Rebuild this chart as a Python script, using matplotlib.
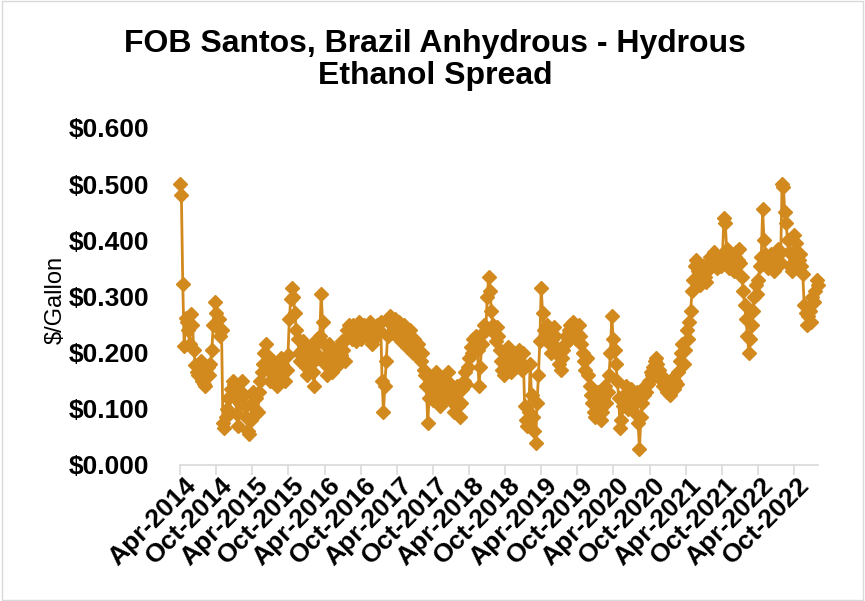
import matplotlib
matplotlib.use('Agg')
import matplotlib.pyplot as plt
import matplotlib.dates as mdates
import matplotlib.transforms as mtransforms
from matplotlib.ticker import FuncFormatter, MultipleLocator
from matplotlib.patches import Rectangle
import pandas as pd

plt.rcParams['font.family'] = ['Liberation Sans', 'DejaVu Sans']

# weekly spread, $/gallon, first week = 4 Apr 2014
spread_2014 = [0.500, 0.480, 0.322, 0.212,
               0.262, 0.255, 0.240, 0.215, 0.268,
               0.250, 0.205, 0.178, 0.165,
               0.160, 0.170, 0.185, 0.150,
               0.145, 0.140, 0.165, 0.175, 0.160,
               0.180, 0.205, 0.250, 0.290,
               0.270, 0.245, 0.260, 0.230, 0.240,
               0.075, 0.065, 0.085, 0.100,
               0.120, 0.095, 0.135, 0.150]
spread_2015 = [0.145, 0.120, 0.090, 0.070, 0.110,
               0.130, 0.150, 0.125, 0.105,
               0.085, 0.060, 0.055, 0.080,
               0.110, 0.130, 0.100, 0.120,
               0.095, 0.130, 0.150, 0.165, 0.180,
               0.200, 0.215, 0.195, 0.170,
               0.150, 0.165, 0.185, 0.170, 0.155,
               0.140, 0.160, 0.175, 0.190,
               0.180, 0.165, 0.150, 0.170,
               0.195, 0.260, 0.295, 0.315, 0.300,
               0.270, 0.240, 0.225, 0.200,
               0.185, 0.205, 0.220, 0.195]
spread_2016 = [0.175, 0.160, 0.190, 0.210, 0.180,
               0.165, 0.140, 0.200, 0.225, 0.190,
               0.230, 0.305, 0.255, 0.215,
               0.180, 0.160, 0.195, 0.215, 0.175,
               0.165, 0.190, 0.205, 0.175,
               0.185, 0.210, 0.195, 0.220,
               0.205, 0.185, 0.225, 0.240, 0.250,
               0.240, 0.225, 0.250, 0.235,
               0.220, 0.245, 0.255, 0.240, 0.225,
               0.235, 0.250, 0.240, 0.230,
               0.245, 0.255, 0.230, 0.215,
               0.225, 0.240, 0.250, 0.235]
spread_2017 = [0.240, 0.255, 0.150, 0.095,
               0.140, 0.185, 0.230, 0.255,
               0.265, 0.250, 0.235, 0.260, 0.245,
               0.230, 0.255, 0.240, 0.220,
               0.235, 0.250, 0.225, 0.210,
               0.230, 0.240, 0.215, 0.200, 0.225,
               0.210, 0.195, 0.215, 0.200,
               0.185, 0.200, 0.170, 0.160,
               0.140, 0.075, 0.120, 0.150, 0.130,
               0.115, 0.140, 0.165, 0.150,
               0.125, 0.105, 0.140, 0.155,
               0.135, 0.120, 0.150, 0.165, 0.145]
spread_2018 = [0.130, 0.110, 0.095, 0.125,
               0.140, 0.105, 0.085, 0.110,
               0.135, 0.150, 0.165, 0.145, 0.175,
               0.190, 0.210, 0.200, 0.225,
               0.215, 0.230, 0.205, 0.140,
               0.175, 0.215, 0.235, 0.250, 0.240,
               0.300, 0.335, 0.310, 0.275,
               0.250, 0.235, 0.220, 0.245, 0.230,
               0.205, 0.185, 0.170, 0.160,
               0.175, 0.195, 0.210, 0.185,
               0.165, 0.180, 0.200, 0.190, 0.175,
               0.190, 0.205, 0.185, 0.170]
spread_2019 = [0.200, 0.105, 0.080, 0.070,
               0.095, 0.180, 0.125, 0.085,
               0.060, 0.040, 0.110, 0.160, 0.220,
               0.315, 0.270, 0.240, 0.225,
               0.250, 0.235, 0.215, 0.200, 0.225,
               0.245, 0.230, 0.210, 0.195,
               0.180, 0.170, 0.190, 0.205,
               0.215, 0.230, 0.220, 0.240, 0.250,
               0.235, 0.255, 0.240, 0.225,
               0.235, 0.250, 0.230, 0.215,
               0.200, 0.185, 0.170, 0.190, 0.160,
               0.140, 0.125, 0.110, 0.095]
spread_2020 = [0.085, 0.105, 0.130, 0.115, 0.080,
               0.095, 0.120, 0.140, 0.110,
               0.130, 0.160, 0.200, 0.265,
               0.225, 0.205, 0.180, 0.150,
               0.120, 0.065, 0.080, 0.105, 0.125,
               0.140, 0.120, 0.100, 0.125,
               0.135, 0.110, 0.095, 0.120, 0.130,
               0.075, 0.028, 0.085, 0.110,
               0.125, 0.140, 0.130, 0.145,
               0.150, 0.165, 0.160, 0.175, 0.185,
               0.190, 0.180, 0.170, 0.160,
               0.150, 0.140, 0.155, 0.135]
spread_2021 = [0.130, 0.145, 0.125, 0.140, 0.155,
               0.135, 0.150, 0.145, 0.165,
               0.185, 0.200, 0.215, 0.180,
               0.205, 0.240, 0.225, 0.255, 0.275,
               0.310, 0.330, 0.355, 0.365,
               0.345, 0.330, 0.320, 0.340,
               0.355, 0.335, 0.325, 0.345, 0.360,
               0.370, 0.355, 0.365, 0.380,
               0.360, 0.350, 0.370, 0.365,
               0.355, 0.375, 0.440, 0.430,
               0.385, 0.365, 0.350, 0.370,
               0.360, 0.345, 0.370, 0.380, 0.365]
spread_2022 = [0.385, 0.360, 0.335, 0.310,
               0.285, 0.260, 0.230, 0.200,
               0.225, 0.250, 0.275, 0.300,
               0.320, 0.305, 0.330, 0.355, 0.370,
               0.455, 0.400, 0.375, 0.360,
               0.350, 0.365, 0.375, 0.355,
               0.345, 0.360, 0.370, 0.385, 0.375,
               0.360, 0.500, 0.495, 0.450,
               0.430, 0.400, 0.380, 0.355, 0.345,
               0.360, 0.410, 0.395, 0.380,
               0.365, 0.375, 0.355, 0.340,
               0.285, 0.270, 0.250, 0.265, 0.275]
spread_2023 = [0.255, 0.300, 0.290, 0.310,
               0.330, 0.320]

spread = (spread_2014 + spread_2015 + spread_2016 + spread_2017 + spread_2018
          + spread_2019 + spread_2020 + spread_2021 + spread_2022 + spread_2023)
dates = pd.date_range('2014-04-04', periods=len(spread), freq='7D')
tick_dates = pd.date_range('2014-04-04', periods=18, freq=pd.DateOffset(months=6))

color = '#D2891D'

fig = plt.figure(figsize=(8.65, 6.01), dpi=100)
ax = fig.add_axes([180 / 865, 136 / 601, 638 / 865, 337 / 601])

ax.plot(dates, spread, color=color, linewidth=2, marker='D', markersize=7.5,
        markeredgewidth=1, markeredgecolor=color, markerfacecolor=color, clip_on=False)

ax.set_xlim(dates[0], dates[-1])
ax.set_ylim(0, 0.6)
ax.yaxis.set_major_locator(MultipleLocator(0.1))
ax.yaxis.set_major_formatter(FuncFormatter(lambda v, p: f'${v:.3f}'))

ax.set_xticks(tick_dates)
ax.xaxis.set_major_formatter(mdates.DateFormatter('%b-%Y'))

for s in ['top', 'right', 'left']:
    ax.spines[s].set_visible(False)
ax.spines['bottom'].set_color('#D9D9D9')
ax.spines['bottom'].set_linewidth(1.2)

ax.tick_params(axis='y', length=0, pad=22, labelsize=19)
ax.tick_params(axis='x', length=7, width=1.2, color='#D9D9D9', direction='out', pad=2, labelsize=19)

shift = mtransforms.ScaledTranslation(12 / 100, -4 / 100, fig.dpi_scale_trans)
for lab in ax.get_xticklabels():
    lab.set_rotation(45)
    lab.set_ha('right')
    lab.set_va('center')
    lab.set_rotation_mode('anchor')
    lab.set_fontweight('bold')
    lab.set_transform(lab.get_transform() + shift)
for lab in ax.get_yticklabels():
    lab.set_fontweight('bold')

fig.text(56 / 865, 1 - 300 / 601, '$/Gallon', rotation=90, ha='center', va='center', fontsize=17)

fig.text(435 / 865, 1 - 60 / 601, 'FOB Santos, Brazil Anhydrous - Hydrous\nEthanol Spread',
         ha='center', va='center', fontsize=23, fontweight='bold', linespacing=1.12)

fig.patches.append(Rectangle((0.002, 0.002), 0.996, 0.996, transform=fig.transFigure,
                             fill=False, edgecolor='#D9D9D9', linewidth=1))

fig.savefig('out.png', dpi=100)
